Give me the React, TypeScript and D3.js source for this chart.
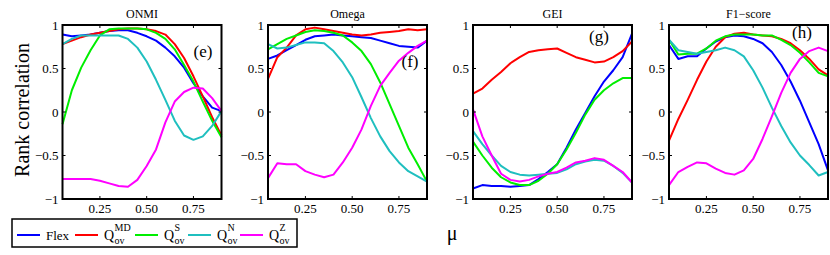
import React, { useEffect, useRef } from 'react';
import * as d3 from 'd3';

// mu values (x axis) shared by every panel
const MU = [0.05, 0.1, 0.15, 0.2, 0.25, 0.3, 0.35, 0.4, 0.45, 0.5, 0.55, 0.6, 0.65, 0.7, 0.75, 0.8, 0.85, 0.9];

const X_TICKS = [0.25, 0.5, 0.75];
const X_TICK_LABELS = ['0.25', '0.50', '0.75'];
const Y_TICKS = [-1, -0.5, 0, 0.5, 1];
const Y_TICK_LABELS = ['\u22121', '\u22120.5', '0', '0.5', '1'];

const PANEL_TITLES = ['ONMI', 'Omega', 'GEI', 'F1\u2212score'];
const PANEL_TAGS = ['(e)', '(f)', '(g)', '(h)'];

const SERIES_NAMES = ['Flex', 'MD', 'S', 'N', 'Z'];

// ONMI
const onmiFlex = [0.89, 0.87, 0.88, 0.89, 0.91, 0.93, 0.94, 0.94, 0.91, 0.87, 0.82, 0.74, 0.64, 0.51, 0.33, 0.18, 0.05, 0.01];
const onmiMD = [0.78, 0.82, 0.86, 0.89, 0.91, 0.93, 0.95, 0.96, 0.96, 0.95, 0.93, 0.89, 0.78, 0.62, 0.41, 0.18, -0.06, -0.27];
const onmiS = [-0.14, 0.25, 0.51, 0.71, 0.88, 0.95, 0.96, 0.96, 0.96, 0.95, 0.91, 0.84, 0.72, 0.54, 0.35, 0.12, -0.1, -0.29];
const onmiN = [0.78, 0.84, 0.88, 0.88, 0.88, 0.88, 0.88, 0.84, 0.74, 0.58, 0.37, 0.14, -0.1, -0.27, -0.32, -0.28, -0.16, 0.01];
const onmiZ = [-0.77, -0.77, -0.77, -0.77, -0.79, -0.82, -0.85, -0.86, -0.78, -0.62, -0.43, -0.12, 0.12, 0.23, 0.28, 0.27, 0.16, 0.01];

// Omega
const omegaFlex = [0.61, 0.65, 0.71, 0.77, 0.83, 0.87, 0.88, 0.89, 0.88, 0.87, 0.86, 0.85, 0.82, 0.79, 0.76, 0.75, 0.74, 0.82];
const omegaMD = [0.38, 0.63, 0.74, 0.88, 0.95, 0.97, 0.95, 0.93, 0.91, 0.89, 0.88, 0.89, 0.91, 0.92, 0.93, 0.95, 0.94, 0.95];
const omegaS = [0.72, 0.78, 0.84, 0.88, 0.92, 0.94, 0.93, 0.91, 0.88, 0.8, 0.7, 0.55, 0.34, 0.09, -0.16, -0.41, -0.6, -0.8];
const omegaN = [0.78, 0.73, 0.74, 0.77, 0.8, 0.8, 0.79, 0.7, 0.57, 0.4, 0.17, -0.07, -0.28, -0.45, -0.58, -0.68, -0.74, -0.8];
const omegaZ = [-0.76, -0.59, -0.6, -0.6, -0.68, -0.72, -0.75, -0.72, -0.58, -0.41, -0.2, 0.07, 0.3, 0.45, 0.59, 0.68, 0.76, 0.82];

// GEI
const geiFlex = [-0.88, -0.84, -0.85, -0.85, -0.86, -0.85, -0.84, -0.77, -0.69, -0.6, -0.41, -0.2, -0.01, 0.18, 0.35, 0.48, 0.63, 0.9];
const geiMD = [0.21, 0.27, 0.37, 0.46, 0.56, 0.63, 0.69, 0.71, 0.72, 0.73, 0.68, 0.63, 0.6, 0.57, 0.58, 0.63, 0.7, 0.81];
const geiS = [-0.34, -0.5, -0.64, -0.75, -0.81, -0.84, -0.84, -0.79, -0.71, -0.6, -0.43, -0.24, -0.03, 0.14, 0.25, 0.33, 0.39, 0.39];
const geiN = [-0.22, -0.37, -0.5, -0.62, -0.69, -0.72, -0.73, -0.72, -0.71, -0.7, -0.66, -0.6, -0.57, -0.55, -0.56, -0.62, -0.7, -0.81];
const geiZ = [0.03, -0.28, -0.5, -0.71, -0.78, -0.8, -0.78, -0.74, -0.71, -0.69, -0.64, -0.58, -0.56, -0.53, -0.55, -0.62, -0.69, -0.81];

// F1-score
const f1Flex = [0.77, 0.61, 0.64, 0.64, 0.73, 0.81, 0.86, 0.88, 0.87, 0.84, 0.79, 0.69, 0.54, 0.35, 0.13, -0.12, -0.37, -0.67];
const f1MD = [-0.33, -0.08, 0.14, 0.37, 0.58, 0.75, 0.86, 0.9, 0.91, 0.89, 0.88, 0.87, 0.84, 0.79, 0.71, 0.61, 0.49, 0.42];
const f1S = [0.83, 0.66, 0.67, 0.67, 0.73, 0.82, 0.87, 0.89, 0.89, 0.89, 0.88, 0.88, 0.83, 0.77, 0.68, 0.57, 0.45, 0.41];
const f1N = [0.83, 0.71, 0.69, 0.67, 0.69, 0.71, 0.74, 0.71, 0.64, 0.48, 0.28, 0.05, -0.16, -0.35, -0.5, -0.61, -0.73, -0.69];
const f1Z = [-0.84, -0.69, -0.63, -0.58, -0.59, -0.65, -0.7, -0.72, -0.67, -0.54, -0.31, -0.05, 0.22, 0.45, 0.61, 0.7, 0.74, 0.7];

const COLORS = ['#0000ff', '#ff0000', '#00ee00', '#1fbfbf', '#ff00ff'];
const FONT = "'Liberation Serif', 'DejaVu Serif', serif";

const App = () => {
  const ref = useRef<SVGSVGElement>(null);

  useEffect(() => {
    if (!ref.current) return;
    const svg = d3.select(ref.current);
    svg.selectAll('*').remove();

    const panelData = [
      [onmiFlex, onmiMD, onmiS, onmiN, onmiZ],
      [omegaFlex, omegaMD, omegaS, omegaN, omegaZ],
      [geiFlex, geiMD, geiS, geiN, geiZ],
      [f1Flex, f1MD, f1S, f1N, f1Z],
    ];
    const lefts = [62.5, 268, 473, 669];
    const pw = 159;
    const top = 25;
    const bottom = 199;
    const tagPos = [[203, 57], [410, 67], [599, 42], [802, 38]];

    panelData.forEach((series, p) => {
      const x = d3.scaleLinear().domain([0.05, 0.9]).range([lefts[p], lefts[p] + pw]);
      const y = d3.scaleLinear().domain([-1, 1]).range([bottom, top]);
      const g = svg.append('g');

      const line = d3.line<number>()
        .x((_, i) => x(MU[i]))
        .y(d => y(d));

      series.forEach((vals, s) => {
        g.append('path')
          .attr('d', line(vals) || '')
          .attr('fill', 'none')
          .attr('stroke', COLORS[s])
          .attr('stroke-width', 2)
          .attr('stroke-linejoin', 'round');
      });

      // box + inward ticks on all four sides (matlab style)
      g.append('rect')
        .attr('x', lefts[p]).attr('y', top)
        .attr('width', pw).attr('height', bottom - top)
        .attr('fill', 'none').attr('stroke', '#000').attr('stroke-width', 2);

      X_TICKS.forEach((t, i) => {
        g.append('line').attr('x1', x(t)).attr('x2', x(t)).attr('y1', bottom).attr('y2', bottom - 3)
          .attr('stroke', '#000').attr('stroke-width', 1);
        g.append('line').attr('x1', x(t)).attr('x2', x(t)).attr('y1', top).attr('y2', top + 3)
          .attr('stroke', '#000').attr('stroke-width', 1);
        g.append('text')
          .attr('x', x(t)).attr('y', bottom + 14)
          .attr('text-anchor', 'middle')
          .style('font-family', FONT).style('font-size', '13px')
          .text(X_TICK_LABELS[i]);
      });

      Y_TICKS.forEach((t, i) => {
        g.append('line').attr('x1', lefts[p]).attr('x2', lefts[p] + 3).attr('y1', y(t)).attr('y2', y(t))
          .attr('stroke', '#000').attr('stroke-width', 1);
        g.append('line').attr('x1', lefts[p] + pw).attr('x2', lefts[p] + pw - 3).attr('y1', y(t)).attr('y2', y(t))
          .attr('stroke', '#000').attr('stroke-width', 1);
        g.append('text')
          .attr('x', lefts[p] - 4).attr('y', y(t) + 4.5)
          .attr('text-anchor', 'end')
          .style('font-family', FONT).style('font-size', '13px')
          .text(Y_TICK_LABELS[i]);
      });

      g.append('text')
        .attr('x', lefts[p] + pw / 2).attr('y', top - 7)
        .attr('text-anchor', 'middle')
        .style('font-family', FONT).style('font-size', '12px')
        .text(PANEL_TITLES[p]);

      g.append('text')
        .attr('x', tagPos[p][0]).attr('y', tagPos[p][1])
        .attr('text-anchor', 'middle')
        .style('font-family', FONT).style('font-size', '17px')
        .text(PANEL_TAGS[p]);
    });

    // y label
    svg.append('text')
      .attr('transform', 'translate(29,110) rotate(-90)')
      .attr('text-anchor', 'middle')
      .style('font-family', FONT).style('font-size', '20px')
      .text('Rank correlation');

    // x label
    svg.append('text')
      .attr('x', 452).attr('y', 240)
      .attr('text-anchor', 'middle')
      .style('font-family', FONT).style('font-size', '20px')
      .text('\u03bc');

    // legend
    const lg = svg.append('g');
    lg.append('rect')
      .attr('x', 12).attr('y', 219).attr('width', 285).attr('height', 28)
      .attr('fill', '#fff').attr('stroke', '#000').attr('stroke-width', 1.5);
    const itemX = [17, 75, 135, 188, 240];
    SERIES_NAMES.forEach((name, i) => {
      lg.append('line')
        .attr('x1', itemX[i]).attr('x2', itemX[i] + 23)
        .attr('y1', 235).attr('y2', 235)
        .attr('stroke', COLORS[i]).attr('stroke-width', 2);
      if (i === 0) {
        lg.append('text')
          .attr('x', itemX[i] + 29).attr('y', 240)
          .style('font-family', FONT).style('font-size', '13px')
          .text(name);
      } else {
        const tx = itemX[i] + 29;
        lg.append('text')
          .attr('x', tx).attr('y', 240)
          .style('font-family', FONT).style('font-size', '14px')
          .text('Q');
        lg.append('text')
          .attr('x', tx + 10.5).attr('y', 230.5)
          .style('font-family', FONT).style('font-size', '10px')
          .text(name);
        lg.append('text')
          .attr('x', tx + 10.5).attr('y', 243.5)
          .style('font-family', FONT).style('font-size', '10px')
          .text('ov');
      }
    });
  }, []);

  return (
    <svg
      ref={ref}
      width={830}
      height={255}
      style={{ position: 'absolute', left: 0, top: 0, background: '#fff' }}
    />
  );
};

export default App;
